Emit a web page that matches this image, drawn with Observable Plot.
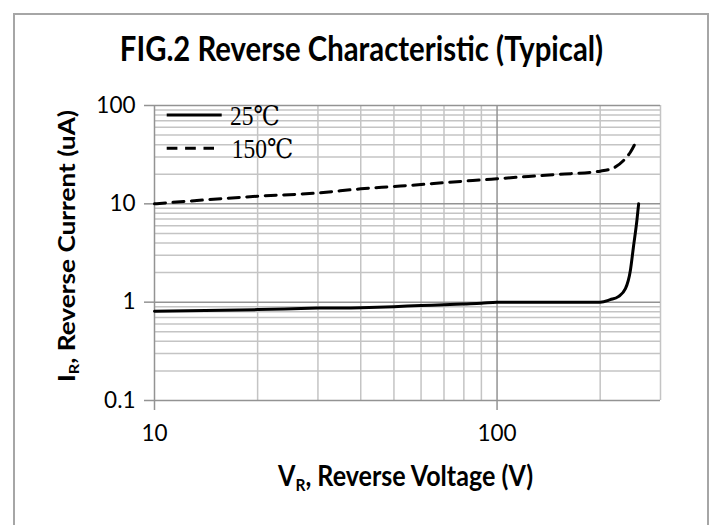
<!DOCTYPE html>
<html>
<head>
<meta charset="utf-8">
<script src="https://cdn.jsdelivr.net/npm/d3@7"></script>
<script src="https://cdn.jsdelivr.net/npm/@observablehq/plot@0.6"></script>
<style>
  html, body { margin: 0; padding: 0; background: #fff; overflow: hidden; }
  #chart { position: relative; width: 718px; height: 525px; }
</style>
</head>
<body>
<div id="chart"></div>
<script>
// ---- data ----
const title = "FIG.2 Reverse Characteristic (Typical)";
const series = ["25℃", "150℃"];

const v25 = [10, 20, 30, 40, 50, 60, 70, 80, 90, 100, 150, 200, 214, 226, 237, 245, 250, 256, 259];
const i25 = [0.81, 0.84, 0.87, 0.88, 0.90, 0.925, 0.94, 0.96, 0.977, 1.0, 1.0, 1.0, 1.06, 1.14, 1.37, 2.1, 3.6, 6.8, 10];

const v150 = [10, 20, 30, 40, 50, 60, 70, 80, 90, 100, 150, 200, 219, 234, 245, 254];
const i150 = [10, 11.95, 12.9, 14.2, 15.0, 15.7, 16.4, 17.0, 17.5, 18.0, 19.9, 21.5, 23.2, 27.6, 33.5, 42.3];

const xTicks = [10, 100];
const yTicks = [0.1, 1, 10, 100];
const xMajorGrid = [10, 100];
const xMinorGrid = [20, 30, 40, 50, 60, 70, 80, 90, 200, 300];
const yMajorGrid = [0.1, 1, 10, 100];
const yMinorGrid = [0.2, 0.3, 0.4, 0.5, 0.6, 0.7, 0.8, 0.9, 2, 3, 4, 5, 6, 7, 8, 9, 20, 30, 40, 50, 60, 70, 80, 90];

const d25 = v25.map((v, k) => ({v, i: i25[k]}));
const d150 = v150.map((v, k) => ({v, i: i150[k]}));

const MINOR = "#c4c4c4", MAJOR = "#939393";
const STRETCH = 1.15; // reference glyphs are slightly taller than wide

const plot = Plot.plot({
  width: 718,
  height: 525,
  marginLeft: 154,
  marginRight: 58,
  marginTop: 105,
  marginBottom: 125,
  style: {fontFamily: "Lato, 'Open Sans', sans-serif", fontSize: "22px", color: "#000", background: "transparent"},
  x: {type: "log", domain: [10, 300]},
  y: {type: "log", domain: [0.1, 100]},
  marks: [
    Plot.ruleX(xMinorGrid, {stroke: MINOR, strokeWidth: 1.5}),
    Plot.ruleY(yMinorGrid, {stroke: MINOR, strokeWidth: 1.5}),
    Plot.ruleX(xMajorGrid, {stroke: MAJOR, strokeWidth: 1.5}),
    Plot.ruleY(yMajorGrid, {stroke: MAJOR, strokeWidth: 1.5}),
    Plot.axisX(xTicks, {tickSize: 10, tickPadding: 15, stroke: MAJOR, strokeWidth: 1.5, fill: "#000", fontSize: 22.5, tickFormat: d => String(d), label: null}),
    Plot.axisY(yTicks, {tickSize: 10, tickPadding: 9, stroke: MAJOR, strokeWidth: 1.5, fill: "#000", fontSize: 22.5, tickFormat: d => String(d), label: null}),
    Plot.line(d150, {x: "v", y: "i", stroke: "#000", strokeWidth: 3, strokeDasharray: "11,7.5", curve: "monotone-x"}),
    Plot.line(d25, {x: "v", y: "i", stroke: "#000", strokeWidth: 3, curve: "monotone-x"})
  ]
});

document.getElementById("chart").appendChild(plot);
const svg = d3.select(plot);

// outer border
svg.insert("rect", ":first-child")
  .attr("x", 14).attr("y", 14).attr("width", 694).attr("height", 540)
  .attr("fill", "none").attr("stroke", "#a6a6a6").attr("stroke-width", 2);

function fit(sel, target) {
  const w = sel.node().getComputedTextLength();
  const fs = parseFloat(sel.attr("font-size"));
  sel.attr("font-size", fs * target / w);
}

// title
const t = svg.append("text")
  .attr("transform", `translate(361.5,61) scale(1,${STRETCH})`)
  .attr("text-anchor", "middle")
  .attr("font-family", "Lato, sans-serif").attr("font-weight", "bold")
  .attr("font-size", 26).attr("fill", "#000")
  .text(title);
fit(t, 483);

// x label
const xl = svg.append("text")
  .attr("transform", `translate(405.5,486) scale(1,${STRETCH})`)
  .attr("text-anchor", "middle")
  .attr("font-family", "Lato, sans-serif").attr("font-weight", "bold")
  .attr("font-size", 23).attr("fill", "#000");
xl.append("tspan").text("V");
xl.append("tspan").attr("font-size", "0.62em").attr("dy", "0.3em").text("R");
xl.append("tspan").attr("dy", "-0.186em").text(", Reverse Voltage (V)");
fit(xl, 255);

// y label (stretched along its own length)
const yl = svg.append("text")
  .attr("transform", `translate(75,246) rotate(-90) scale(${STRETCH},1)`)
  .attr("text-anchor", "middle")
  .attr("font-family", "Lato, sans-serif").attr("font-weight", "bold")
  .attr("font-size", 21).attr("fill", "#000");
yl.append("tspan").text("I");
yl.append("tspan").attr("font-size", "0.62em").attr("dy", "0.3em").text("R");
yl.append("tspan").attr("dy", "-0.186em").text(", Reverse Current (uA)");
fit(yl, 272 / STRETCH);

// legend
const leg = svg.append("g").attr("text-anchor", "start");
leg.append("line").attr("x1", 166.7).attr("x2", 221.7).attr("y1", 115).attr("y2", 115)
  .attr("stroke", "#000").attr("stroke-width", 3);
leg.append("text").attr("transform", `translate(230,124.5) scale(1,${STRETCH})`).attr("text-anchor", "start")
  .attr("font-family", "'Liberation Serif', 'DejaVu Serif', serif").attr("font-size", 23.5).attr("fill", "#000")
  .text(series[0]);
leg.append("line").attr("x1", 166.7).attr("x2", 214).attr("y1", 148.3).attr("y2", 148.3)
  .attr("stroke", "#000").attr("stroke-width", 3).attr("stroke-dasharray", "10.7,7.7");
leg.append("text").attr("transform", `translate(231.7,158.3) scale(1,${STRETCH})`).attr("text-anchor", "start")
  .attr("font-family", "'Liberation Serif', 'DejaVu Serif', serif").attr("font-size", 23.5).attr("fill", "#000")
  .text(series[1]);
</script>
</body>
</html>
